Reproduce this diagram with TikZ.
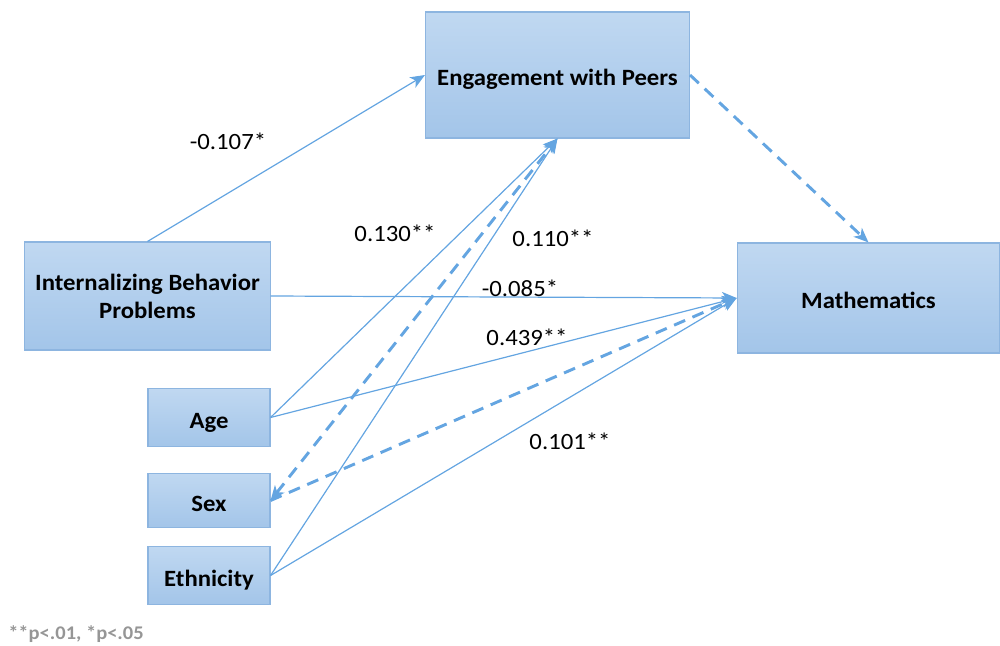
\documentclass[tikz,border=0pt]{standalone}
\usepackage{fontspec}
\setmainfont[FakeStretch=1.06]{Carlito}
\usetikzlibrary{arrows.meta}
\definecolor{boxtop}{RGB}{192,216,241}
\definecolor{boxbot}{RGB}{163,197,233}
\definecolor{boxline}{RGB}{141,181,224}
\definecolor{pathblue}{RGB}{100,165,225}
\definecolor{notegray}{RGB}{150,150,150}
\tikzset{
  varbox/.style={draw=boxline, line width=0.8pt, top color=boxtop, bottom color=boxbot,
    font=\fontsize{17.5}{21}\selectfont\bfseries, align=center, inner sep=0pt},
  lowtext/.style={text height=17pt, text depth=1pt},
  coef/.style={font=\fontsize{17.5}{21}\selectfont, inner sep=0.75pt},
  sig/.style={draw=pathblue, line width=0.9pt, -{Stealth[length=11pt,width=9pt,inset=3pt]}},
  nonsig/.style={sig, line width=2.2pt, dash pattern=on 9pt off 6pt}
}
\begin{document}
\begin{tikzpicture}[x=0.75pt,y=0.75pt,yscale=-1,xscale=1]
\useasboundingbox (0,0) rectangle (1000,646);

% Boxes
\node [varbox, lowtext, minimum width=198pt, minimum height=94.5pt] (peers) at (557.5,75) {Engagement with Peers};
\node [varbox, minimum width=184pt, minimum height=81pt] (ibp) at (147.5,296) {Internalizing Behavior\\Problems};
\node [varbox, lowtext, minimum width=197pt, minimum height=82.5pt] (math) at (868.5,298) {Mathematics};
\node [varbox, lowtext, minimum width=91.5pt, minimum height=44pt] (age) at (209,417.5) {Age};
\node [varbox, lowtext, minimum width=91.5pt, minimum height=41pt] (sex) at (209,500.5) {Sex};
\node [varbox, lowtext, minimum width=91.5pt, minimum height=43pt] (eth) at (209,575.5) {Ethnicity};

% Paths
\draw [sig] (ibp.north) -- (peers.west);
\draw [sig] (ibp.east) -- (math.west);
\draw [sig] (age.east) -- (peers.south);
\draw [sig] (age.east) -- (math.west);
\draw [nonsig, {Stealth[length=11pt,width=9pt,inset=3pt]}-{Stealth[length=11pt,width=9pt,inset=3pt]}] (sex.east) -- (peers.south);
\draw [nonsig] (sex.east) -- (math.west);
\draw [sig] (eth.east) -- (peers.south);
\draw [sig] (eth.east) -- (math.west);
\draw [nonsig] (peers.east) -- (math.north);

% Coefficients
\node [coef] (c1) at (228,141) {-0.107*};
\node [coef] (c2) at (395,233) {0.130**};
\node [coef] (c3) at (553,238) {0.110**};
\node [coef] (c4) at (520,288) {-0.085*};
\node [coef] (c5) at (527,337) {0.439**};
\node [coef] (c6) at (570,441) {0.101**};

% Note
\node [anchor=west, text=notegray, font=\fontsize{14.5}{17}\selectfont\bfseries, inner sep=0pt] (note) at (8,634) {**p<.01, *p<.05};

\end{tikzpicture}
\end{document}
